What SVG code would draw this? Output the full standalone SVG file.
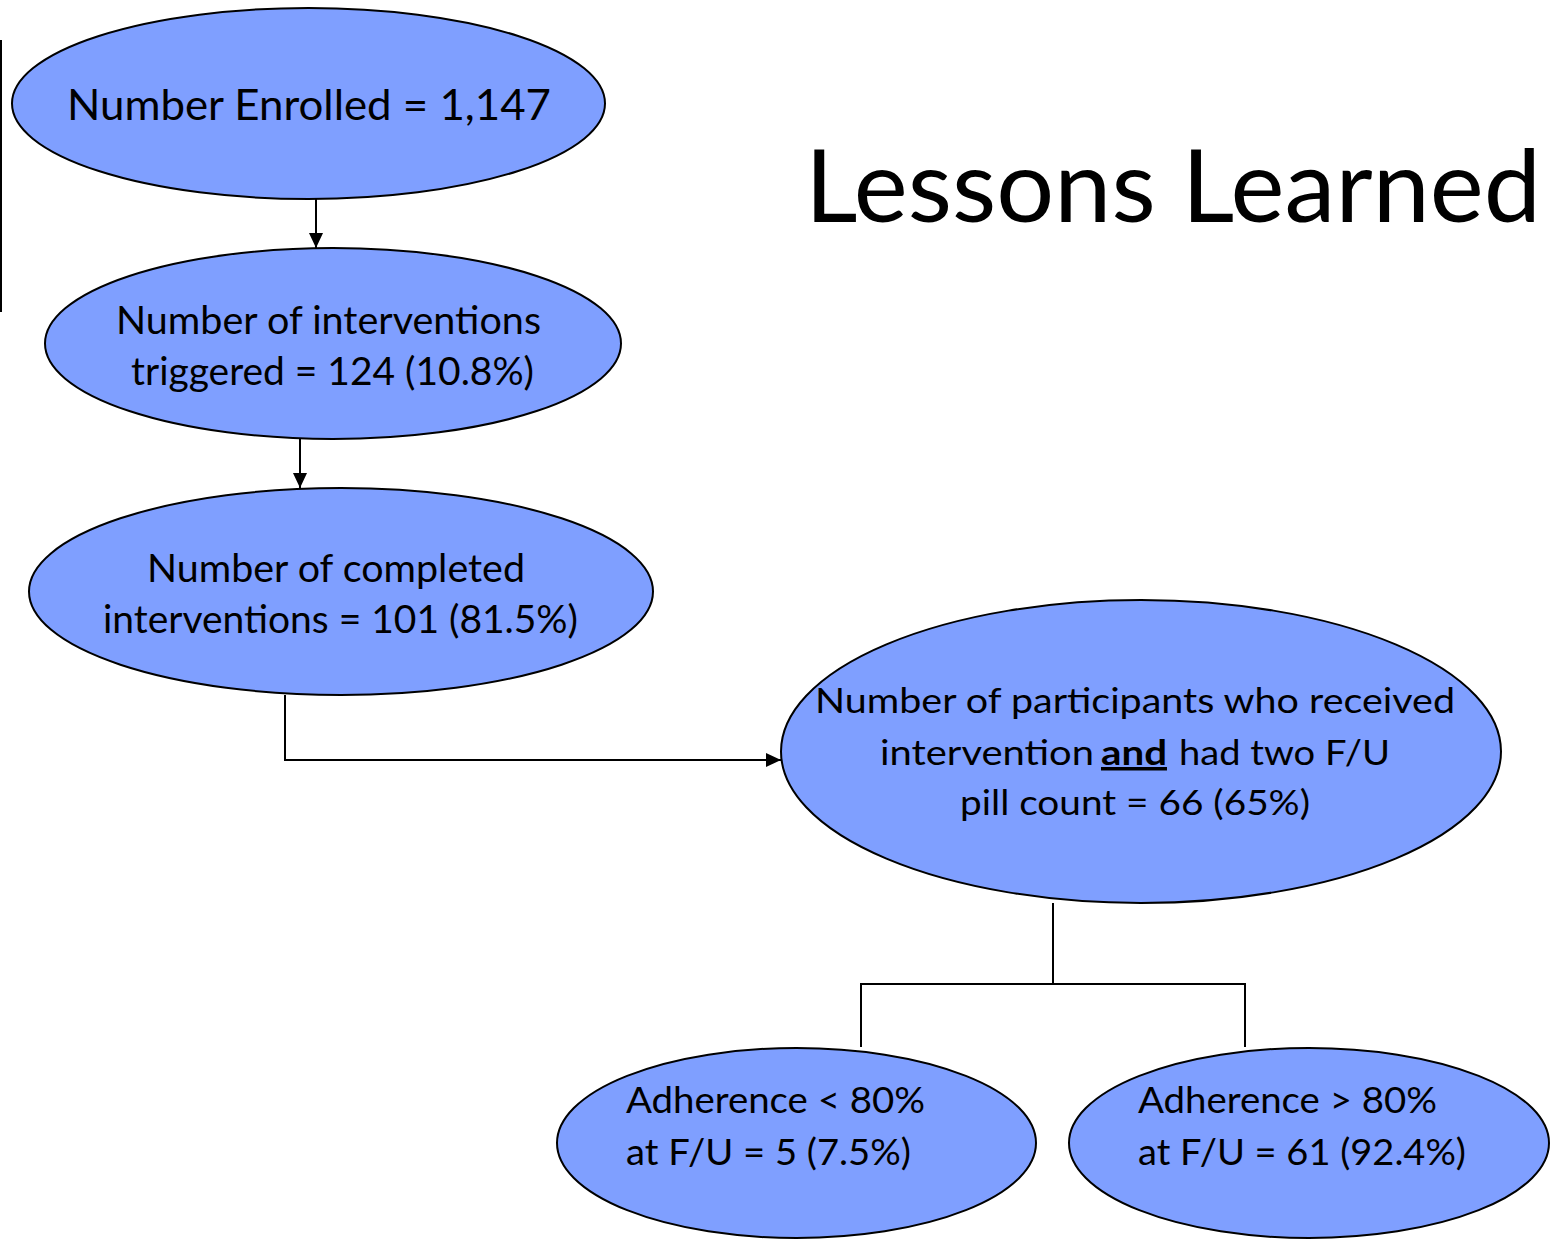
<svg xmlns="http://www.w3.org/2000/svg" width="1560" height="1239" viewBox="0 0 1560 1239">
<style>
.n{fill:#7f9fff;stroke:#000;stroke-width:2}
.t{font-family:Lato,"Open Sans","Liberation Sans",sans-serif;fill:#000}
.c{fill:none;stroke:#000;stroke-width:2}
</style>
<defs>
<marker id="ah" markerWidth="15" markerHeight="14" refX="15" refY="7" orient="auto" markerUnits="userSpaceOnUse" viewBox="0 0 15 14">
<path d="M0,0 L15,7 L0,14 z" fill="#000"/>
</marker>
</defs>
<rect width="1560" height="1239" fill="#fff"/>
<line x1="1" y1="40" x2="1" y2="312" stroke="#000" stroke-width="2"/>
<text class="t" x="805" y="222" font-size="100" textLength="736" lengthAdjust="spacingAndGlyphs">Lessons Learned</text>
<g id="connectors">
<line class="c" x1="316" y1="199" x2="316" y2="248" marker-end="url(#ah)"/>
<line class="c" x1="300" y1="439" x2="300" y2="488" marker-end="url(#ah)"/>
<polyline class="c" points="285,695 285,760 781,760" marker-end="url(#ah)"/>
<polyline class="c" points="1053,903 1053,984"/>
<polyline class="c" points="861,1047 861,984 1245,984 1245,1047"/>
</g>
<g id="n1">
<ellipse class="n" cx="308.5" cy="103.5" rx="296.5" ry="95.5"/>
<text class="t" x="67" y="120" font-size="43" textLength="484" lengthAdjust="spacingAndGlyphs">Number Enrolled = 1,147</text>
</g>
<g id="n2">
<ellipse class="n" cx="333" cy="343.5" rx="288" ry="95.5"/>
<text class="t" x="116" y="334" font-size="38" textLength="425" lengthAdjust="spacingAndGlyphs">Number of interventions</text>
<text class="t" x="131" y="385" font-size="38" textLength="403" lengthAdjust="spacingAndGlyphs">triggered = 124 (10.8%)</text>
</g>
<g id="n3">
<ellipse class="n" cx="341" cy="591.5" rx="312" ry="103.5"/>
<text class="t" x="147" y="582" font-size="38" textLength="378" lengthAdjust="spacingAndGlyphs">Number of completed</text>
<text class="t" x="103" y="633" font-size="38" textLength="475" lengthAdjust="spacingAndGlyphs">interventions = 101 (81.5%)</text>
</g>
<g id="n4">
<ellipse class="n" cx="1141" cy="751.5" rx="360" ry="151.5"/>
<text class="t" x="815" y="713" font-size="35" textLength="640" lengthAdjust="spacingAndGlyphs">Number of participants who received</text>
<text class="t" x="880" y="765" font-size="35"><tspan textLength="214" lengthAdjust="spacingAndGlyphs">intervention</tspan><tspan x="1101" font-weight="bold" text-decoration="underline" textLength="66" lengthAdjust="spacingAndGlyphs">and</tspan><tspan x="1179" textLength="211" lengthAdjust="spacingAndGlyphs">had two F/U</tspan></text>
<text class="t" x="960" y="815" font-size="35" textLength="350" lengthAdjust="spacingAndGlyphs">pill count = 66 (65%)</text>
</g>
<g id="n5">
<ellipse class="n" cx="796.5" cy="1143" rx="239.5" ry="95"/>
<text class="t" x="626" y="1113" font-size="36" textLength="299" lengthAdjust="spacingAndGlyphs">Adherence &lt; 80%</text>
<text class="t" x="626" y="1165" font-size="36" textLength="285" lengthAdjust="spacingAndGlyphs">at F/U = 5 (7.5%)</text>
</g>
<g id="n6">
<ellipse class="n" cx="1309" cy="1143" rx="240" ry="95"/>
<text class="t" x="1138" y="1113" font-size="36" textLength="299" lengthAdjust="spacingAndGlyphs">Adherence &gt; 80%</text>
<text class="t" x="1138" y="1165" font-size="36" textLength="328" lengthAdjust="spacingAndGlyphs">at F/U = 61 (92.4%)</text>
</g>
</svg>
